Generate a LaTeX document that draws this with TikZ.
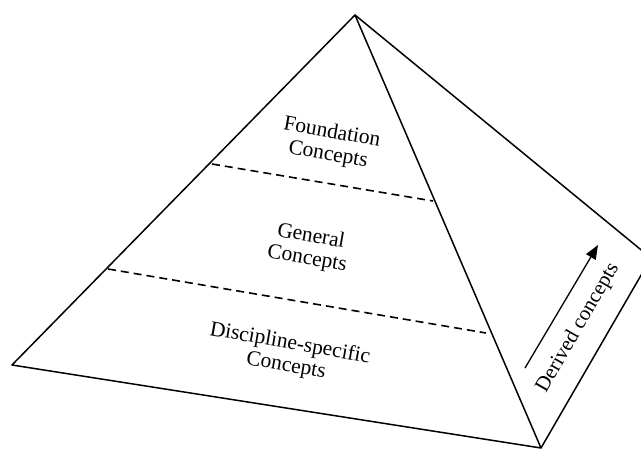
\documentclass[tikz,border=0pt]{standalone}
\usepackage{fontspec}
\setmainfont{Liberation Serif}
\usetikzlibrary{arrows.meta}
\begin{document}
\begin{tikzpicture}[x=1pt,y=-1pt,
  edge/.style={line width=1.5pt,line join=round},
  level/.style={line width=1.6pt,dash pattern=on 8pt off 5pt},
  layertext/.style={align=center,font=\fontsize{21.5}{22.5}\selectfont,rotate=-10,inner sep=0pt},
  sidetext/.style={font=\fontsize{21}{22}\selectfont,rotate=60,inner sep=0pt}]
  \useasboundingbox (0,0) rectangle (641,450);
  \clip (0,0) rectangle (641,450);
  % corners of the pyramid
  \coordinate (apex) at (355,15);
  \coordinate (left) at (12,365);
  \coordinate (front) at (541,448);
  \coordinate (right) at (651,258);
  % outline
  \draw[edge] (left) -- (apex) -- (front) -- cycle;
  \draw[edge] (apex) -- (right) -- (front);
  % level boundaries
  \coordinate (d1a) at (212,164);
  \coordinate (d1b) at (433,201);
  \coordinate (d2a) at (108,269);
  \coordinate (d2b) at (486,333);
  \draw[level] (d1a) -- (d1b);
  \draw[level] (d2a) -- (d2b);
  % level labels
  \node[layertext] (foundation) at (330,144) {Foundation\\Concepts};
  \node[layertext] (general) at (309,248) {General\\Concepts};
  \node[layertext] (discipline) at (288,355) {Discipline-specific\\Concepts};
  % derived concepts arrow
  \coordinate (arrS) at (525,368);
  \coordinate (arrE) at (598,245);
  \draw[line width=1.3pt,-{Triangle[length=14pt,width=11pt]}] (arrS) -- (arrE);
  \node[sidetext] (derived) at (578,328) {Derived concepts};
\end{tikzpicture}
\end{document}
